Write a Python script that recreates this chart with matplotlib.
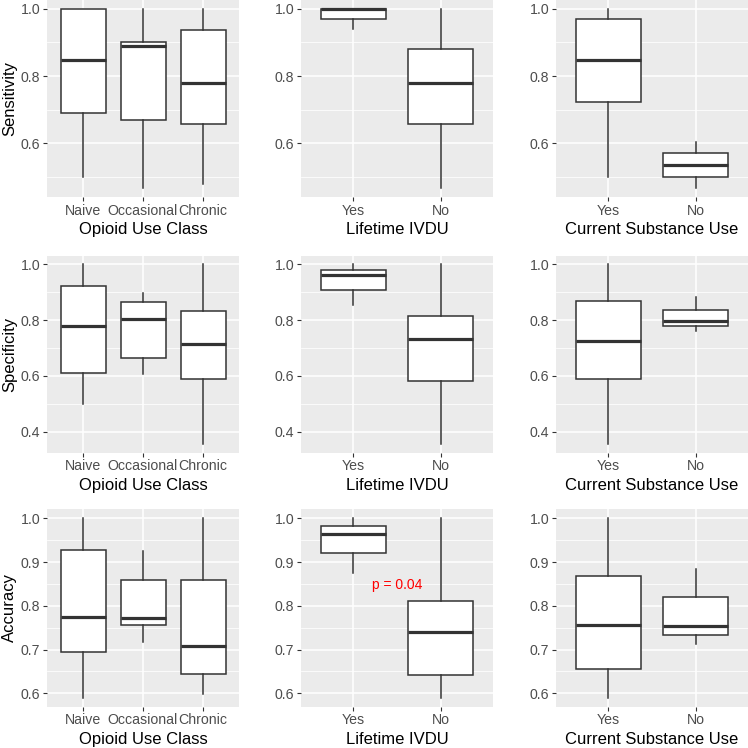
import matplotlib
matplotlib.use("Agg")
import matplotlib.pyplot as plt
from matplotlib.ticker import MultipleLocator, FormatStrFormatter

plt.rcParams["font.family"] = ["Liberation Sans", "DejaVu Sans"]

# ------------------------------------------------------------
# data: each box is [whisker low, q1, median, q3, whisker high]
# ------------------------------------------------------------
opioid_classes = ["Naive", "Occasional", "Chronic"]
yes_no = ["Yes", "No"]

sens_opioid = [[0.500, 0.689, 0.848, 1.000, 1.000],
               [0.466, 0.669, 0.890, 0.900, 1.000],
               [0.477, 0.656, 0.779, 0.938, 1.000]]
sens_ivdu = [[0.939, 0.969, 1.000, 1.000, 1.000],
             [0.466, 0.656, 0.778, 0.881, 1.000]]
sens_current = [[0.500, 0.723, 0.847, 0.969, 1.000],
                [0.466, 0.499, 0.535, 0.571, 0.604]]

spec_opioid = [[0.500, 0.609, 0.780, 0.921, 1.000],
               [0.608, 0.666, 0.805, 0.865, 0.897],
               [0.357, 0.590, 0.716, 0.832, 1.000]]
spec_ivdu = [[0.856, 0.909, 0.963, 0.981, 1.000],
             [0.357, 0.581, 0.734, 0.815, 1.000]]
spec_current = [[0.357, 0.589, 0.726, 0.870, 1.000],
                [0.761, 0.778, 0.796, 0.838, 0.882]]

acc_opioid = [[0.590, 0.695, 0.775, 0.927, 1.000],
              [0.717, 0.756, 0.773, 0.858, 0.925],
              [0.599, 0.644, 0.709, 0.860, 1.000]]
acc_ivdu = [[0.876, 0.921, 0.964, 0.982, 1.000],
            [0.590, 0.643, 0.741, 0.811, 1.000]]
acc_current = [[0.590, 0.655, 0.757, 0.867, 1.000],
               [0.712, 0.733, 0.754, 0.819, 0.883]]

row_titles = ["Sensitivity", "Specificity", "Accuracy"]
col_titles = ["Opioid Use Class", "Lifetime IVDU", "Current Substance Use"]
col_groups = [opioid_classes, yes_no, yes_no]
grid_data = [[sens_opioid, sens_ivdu, sens_current],
             [spec_opioid, spec_ivdu, spec_current],
             [acc_opioid, acc_ivdu, acc_current]]
row_steps = [(0.2, 0.1), (0.2, 0.1), (0.1, 0.05)]

p_label = "p = 0.04"
p_pos = (1.5, 0.847)

# ------------------------------------------------------------
# layout (pixels of a 748 x 748 image)
# ------------------------------------------------------------
W = H = 748
col_px = [(47, 239), (301, 493), (556, 748)]
row_px = [(0, 197), (255.5, 452.7), (509.3, 706.7)]

DARK = "#333333"
fig = plt.figure(figsize=(W / 100, H / 100), dpi=100)
fig.patch.set_facecolor("white")

for r in range(3):
    for c in range(3):
        x0, x1 = col_px[c]
        y0, y1 = row_px[r]
        ax = fig.add_axes([x0 / W, 1 - y1 / H, (x1 - x0) / W, (y1 - y0) / H])
        ax.set_facecolor("#EBEBEB")
        for s in ax.spines.values():
            s.set_visible(False)

        boxes = grid_data[r][c]
        groups = col_groups[c]
        stats = []
        for name, b in zip(groups, boxes):
            stats.append(dict(label=name, whislo=b[0], q1=b[1], med=b[2], q3=b[3], whishi=b[4], fliers=[]))
        pos = list(range(1, len(groups) + 1))
        ax.bxp(stats, positions=pos, widths=0.75, patch_artist=True,
               showcaps=False, showfliers=False,
               boxprops=dict(facecolor="white", edgecolor=DARK, linewidth=1.1),
               whiskerprops=dict(color=DARK, linewidth=1.1),
               medianprops=dict(color=DARK, linewidth=2.3, solid_capstyle="butt"))

        lo = min(b[0] for b in boxes)
        hi = max(b[4] for b in boxes)
        pad = (hi - lo) * 0.05
        ax.set_ylim(lo - pad, hi + pad)
        ax.set_xlim(0.4, len(groups) + 0.6)

        major, minor = row_steps[r]
        ax.yaxis.set_major_locator(MultipleLocator(major))
        ax.yaxis.set_minor_locator(MultipleLocator(minor))
        ax.yaxis.set_major_formatter(FormatStrFormatter("%.1f"))
        ax.set_xticks(pos)
        ax.set_xticklabels(groups)

        ax.set_axisbelow(True)
        ax.grid(True, which="major", color="white", linewidth=1.1)
        ax.grid(True, which="minor", axis="y", color="white", linewidth=0.55)
        ax.tick_params(which="major", length=3, width=0.8, color=DARK,
                       labelcolor="#4D4D4D", labelsize=10.2, pad=1.8)
        ax.tick_params(which="minor", length=0)

        ax.set_xlabel(col_titles[c], fontsize=12, color="black", labelpad=3)
        if c == 0:
            ax.set_ylabel(row_titles[r], fontsize=12, color="black")
            ax.yaxis.set_label_coords(-0.155, 0.5)

        if r == 2 and c == 1:
            ax.text(p_pos[0], p_pos[1], p_label, color="red", fontsize=10,
                    ha="center", va="center")

fig.savefig("out.png", dpi=100)
